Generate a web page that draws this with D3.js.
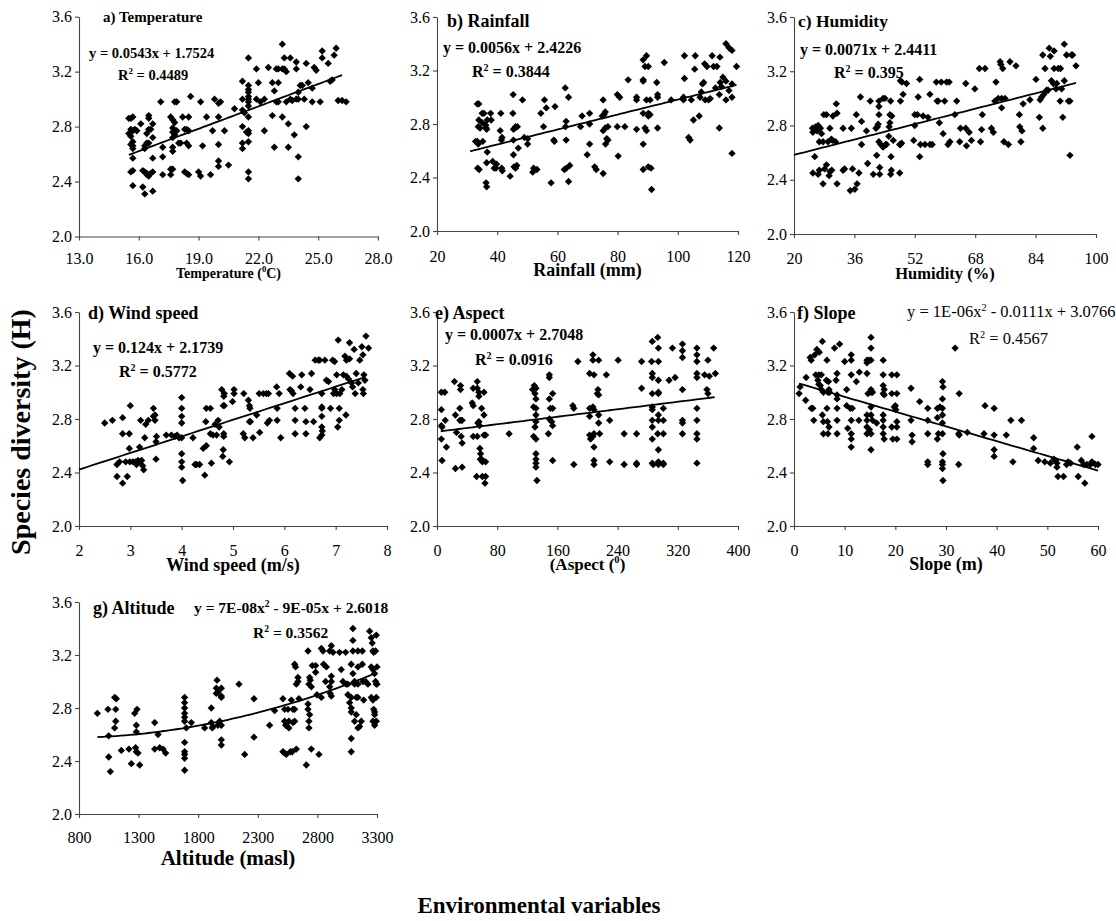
<!DOCTYPE html>
<html>
<head>
<meta charset="utf-8">
<script src="https://cdn.jsdelivr.net/npm/d3@7"></script>
<style>
  body { margin: 0; background: #fff; }
  svg { display: block; }
  text { font-family: "Liberation Serif", "Times New Roman", serif; fill: #000; }
</style>
</head>
<body>
<svg id="chart" width="1116" height="921"></svg>
<script>
// ---------- observations: [variable value, species diversity H] ----------
const temperature = [
[15.5,2.86],[15.6,2.86],[15.7,2.87],[15.5,2.75],[15.6,2.78],[15.7,2.77],[15.6,2.73],[15.7,2.69],[15.7,2.66],[15.6,2.67],[15.7,2.64],[15.7,2.57],[15.7,2.48],[15.6,2.47],[15.7,2.37],[15.8,2.78],[15.9,2.77],
[16.2,2.36],[16.3,2.31],[16.3,2.47],[16.4,2.45],[16.4,2.46],[16.5,2.44],[16.6,2.46],[16.7,2.47],[16.7,2.33],[16.7,2.57],[16.3,2.66],[16.4,2.68],[16.3,2.64],[16.5,2.88],[16.5,2.86],[16.4,2.75],[16.5,2.78],[16.6,2.78],[16.7,2.72],[16.7,2.82],[16.1,2.82],[16.5,2.68],[16.2,2.48],
[17.1,2.98],[17.2,2.65],[17.2,2.58],[17.2,2.45],
[17.6,2.87],[17.7,2.85],[17.8,2.83],[17.7,2.79],[17.7,2.76],[17.8,2.74],[17.7,2.72],[17.7,2.65],[17.7,2.62],[17.6,2.49],[17.6,2.45],[17.7,2.49],[17.8,2.98],[17.9,2.98],[17.8,2.76],[17.9,2.77],[18.0,2.68],[18.1,2.68],[18.2,2.87],[18.3,2.78],[18.4,2.78],[18.5,2.87],[18.5,2.77],[18.4,2.68],[18.5,2.66],[18.3,2.47],[18.4,2.46],[18.5,2.45],[18.6,3.02],
[19.1,2.98],[19.0,2.47],[19.1,2.44],[19.2,2.66],[19.4,2.87],[19.6,2.45],[19.7,2.77],[19.8,3.0],[20.0,2.97],[20.1,2.98],[20.0,2.87],[20.0,2.67],[20.0,2.55],[20.0,2.51],[20.3,2.77],[20.5,2.52],[20.8,2.93],
[21.2,3.13],[21.2,3.0],[21.2,2.92],[21.3,2.9],[21.2,2.8],[21.2,2.68],[21.2,2.64],[21.4,2.76],[21.5,3.3],[21.5,3.1],[21.5,3.07],[21.5,3.05],[21.5,3.02],[21.5,3.0],[21.5,2.98],[21.5,2.95],[21.5,2.87],[21.5,2.77],[21.5,2.75],[21.5,2.69],[21.5,2.47],[21.5,2.42],
[21.9,3.22],[21.9,3.0],[22.0,3.12],[22.1,2.98],[22.3,3.0],[22.3,2.77],[22.5,3.23],[22.7,2.88],[22.7,3.12],[22.8,3.06],[22.9,3.22],[22.8,2.65],[23.0,3.22],[23.0,3.12],[23.0,2.98],[22.9,2.98],[23.2,3.4],[23.3,3.3],[23.2,3.22],[23.2,2.87],[23.3,3.22],[23.4,3.2],[23.4,2.98],[23.5,2.65],[23.6,3.3],[23.6,3.0],[23.5,2.82],[23.7,2.99],[23.8,2.74],[23.9,3.22],[23.9,3.27],[23.9,3.0],[24.0,3.0],[24.0,3.05],[24.0,2.58],[24.0,2.42],[24.2,3.1],[24.1,3.1],[24.3,3.0],[24.4,3.26],[24.4,2.8],[24.5,3.12],[24.7,3.08],[24.7,2.98],[24.8,3.23],[24.9,3.21],[25.1,2.98],[25.2,3.35],[25.2,3.3],[25.5,3.26],[25.6,3.13],[25.7,3.14],[25.8,3.32],[25.9,3.37],[26.0,2.99],[26.2,2.99],[26.4,2.98]
];

const rainfall = [
[32.8,2.67],[33.4,2.95],[33.9,2.95],[33.4,2.67],[33.7,2.65],[33.5,2.47],[34.0,2.46],[33.9,2.83],[33.7,2.78],[34.3,2.77],[35.0,2.81],[35.0,2.88],[35.6,2.88],[35.2,2.67],[36.2,2.79],[36.5,2.76],[36.3,2.77],[36.7,2.83],[36.7,2.59],[36.5,2.51],[36.3,2.36],[36.5,2.33],[37.8,2.88],[38.0,2.83],[38.5,2.52],[39.0,2.47],[39.6,2.47],[39.8,2.5],[41.0,2.75],[41.2,2.88],[41.6,2.7],[41.4,2.68],[41.5,2.47],[41.7,2.45],[44.3,2.41],[45.2,2.88],[45.3,3.02],[45.4,2.76],[45.9,2.77],[46.1,2.78],[46.7,2.78],[45.4,2.68],[45.4,2.57],[45.6,2.48],[46.1,2.47],[46.5,2.49],[47.0,2.62],[48.4,2.98],[49.0,2.7],[50.1,2.65],[50.1,2.69],[51.8,2.44],[52.1,2.47],[53.2,2.46],[54.5,2.88],[55.4,2.78],[55.7,2.98],[56.3,2.92],[57.9,2.36],[59.2,2.93],[58.8,2.68],[59.0,2.67],
[62.6,3.07],[62.9,2.82],[62.7,2.78],[62.9,2.68],[62.3,2.46],[63.0,2.47],[63.7,3.0],[63.7,2.37],[64.1,2.49],[67.7,2.78],[68.2,2.86],[70.7,2.88],[70.7,2.8],[69.9,2.57],[70.7,2.65],[72.4,2.48],[72.9,2.46],[75.2,2.43],[75.2,2.98],[74.9,2.86],[75.5,2.87],[75.9,2.89],[75.2,2.75],[75.9,2.77],[76.8,2.78],[76.4,2.69],[76.8,2.68],[76.0,2.65],[79.9,3.02],[80.7,3.0],[79.9,2.78],[80.2,2.56],[82.4,2.78],[83.5,3.13],[86.3,3.0],[86.3,2.98],[86.3,2.76],
[88.5,3.13],[88.5,3.12],[88.5,3.28],[89.1,3.23],[89.6,3.31],[89.6,2.98],[90.2,3.23],[90.8,2.98],[88.5,2.88],[89.1,2.77],[89.6,2.75],[90.2,2.88],[90.8,2.87],[90.2,2.86],[88.5,2.65],[88.5,2.46],[90.2,2.48],[91.1,2.47],[91.3,2.31],[93.0,3.11],[93.3,3.0],[93.3,3.02],[93.3,2.77],[95.5,3.26],[97.8,2.98],
[101.9,2.98],[101.9,3.0],[102.2,3.31],[102.2,3.14],[104.5,2.98],[103.6,2.7],[104.1,2.68],[105.2,2.83],[105.8,3.31],[105.6,3.21],[107.1,2.86],[107.4,3.0],[107.8,3.04],[108.2,3.1],[108.6,3.11],[108.9,3.25],[109.1,2.98],[109.7,3.23],[110.2,2.98],[110.8,2.99],[111.4,3.31],[111.9,3.23],[112.5,3.07],[113.0,3.23],[113.8,3.02],[113.8,2.77],[114.1,3.11],[114.5,3.08],
[116.0,3.4],[117.0,3.37],[118.0,3.35],[114.0,3.3],[115.0,3.15],[116.0,3.12],[117.0,3.05],[116.0,2.98],[118.0,3.1],[118.0,3.0],[119.5,3.23],[118.0,2.58]
];

const humidity = [
[24.9,2.78],[25.0,2.75],[25.0,2.45],[25.5,2.57],[25.7,2.79],[26.1,2.76],[26.4,2.8],[26.4,2.44],[26.7,2.47],[27.0,2.78],[27.3,2.74],[26.7,2.68],[27.7,2.68],[27.9,2.88],[28.6,2.88],[27.7,2.37],[28.1,2.48],[28.6,2.51],[29.0,2.68],[29.5,2.78],[29.3,2.43],[29.9,2.7],[30.2,2.69],[29.5,2.46],[30.0,2.47],[30.3,2.87],[31.0,2.68],[31.4,2.37],[31.2,2.96],[31.4,2.89],[33.0,2.47],[33.4,2.48],[33.0,2.78],[35.2,2.78],[34.9,2.32],[35.5,2.48],[36.1,2.33],[36.5,2.88],[36.7,2.37],[37.2,2.45],[37.6,3.01],[37.9,2.83],[37.9,2.66],[39.2,2.76],[39.5,2.52],[40.2,2.98],[41.0,2.44],
[41.7,2.78],[42.1,2.79],[41.9,2.58],[42.3,2.81],[42.5,2.94],[42.5,2.88],[42.5,2.98],[42.7,2.49],[42.7,2.44],[42.5,2.68],[43.0,2.66],[43.6,3.0],[44.1,3.0],[43.6,2.64],[44.3,2.66],[44.5,2.66],[45.1,2.72],[45.2,2.79],[45.4,2.88],[45.4,2.82],[45.6,2.98],[45.7,2.57],[45.8,2.47],[45.6,2.44],[46.3,2.69],[45.9,2.87],[48.0,2.66],[48.2,2.66],[48.5,2.67],[48.0,2.45],[48.2,2.98],[48.2,3.13],[48.6,3.12],[48.9,3.03],[49.8,3.11],
[51.7,2.69],[52.0,2.8],[52.0,2.88],[52.7,2.88],[52.9,3.01],[53.3,3.14],[53.3,2.57],[53.5,2.66],[54.2,2.87],[54.7,2.66],[55.5,2.86],[56.0,3.03],[56.0,2.66],[56.6,2.66],[57.9,2.98],[58.5,2.82],[58.2,2.98],[57.7,3.12],[59.0,3.12],[59.5,2.74],[59.9,2.98],[60.4,3.12],[60.8,2.66],[61.3,2.68],[61.1,3.12],[62.6,2.88],[63.1,2.98],[63.9,2.68],[64.1,2.78],[65.5,2.78],[65.5,3.11],[65.7,2.65],[66.4,2.75],[67.0,2.69],[67.9,3.07],
[69.1,3.22],[69.4,2.68],[69.7,2.77],[69.9,2.88],[70.6,3.22],[72.3,2.78],[72.8,2.75],[73.2,2.98],[73.5,3.12],[74.1,3.0],[74.6,3.27],[74.8,3.25],[75.0,3.0],[75.0,2.93],[75.3,3.22],[75.6,2.68],[75.9,3.0],[76.8,2.66],[77.2,3.27],[78.8,3.24],[79.7,2.88],[79.8,2.79],[80.1,2.68],[80.4,2.76],[80.7,2.96],[82.5,2.99],
[84.1,3.14],[85.0,2.86],[85.2,2.99],[85.6,3.01],[85.9,2.78],[85.9,3.32],[86.2,3.03],[86.5,3.22],[86.9,3.06],[87.3,3.06],[87.6,3.37],[87.9,3.31],[88.2,3.13],[88.7,3.11],[88.9,3.35],[88.9,3.22],[89.4,3.07],[89.6,3.11],[90.0,3.22],[90.5,2.98],[90.6,3.22],[91.2,2.86],[90.9,3.07],[91.6,3.4],[91.6,3.13],[92.2,3.32],[92.7,2.98],[93.1,2.98],[93.1,2.58],[93.5,3.32],[93.8,3.32],[94.7,3.24]
];

const windSpeed = [
[2.5,2.77],[2.65,2.79],[2.74,2.37],[2.74,2.46],[2.79,2.48],[2.85,2.81],[2.85,2.69],[2.85,2.32],[2.91,2.48],[2.94,2.37],[2.98,2.58],[2.98,2.69],[3.0,2.9],[2.99,2.48],[3.05,2.48],[3.1,2.48],[3.12,2.46],[3.15,2.49],[3.18,2.59],[3.18,2.48],[3.2,2.79],[3.22,2.49],[3.24,2.45],[3.26,2.42],[3.28,2.66],[3.3,2.76],[3.35,2.79],[3.45,2.88],[3.45,2.82],[3.48,2.83],[3.48,2.79],[3.51,2.67],[3.5,2.63],[3.5,2.5],
[3.7,2.68],[3.8,2.68],[3.87,2.67],[3.91,2.68],[3.95,2.66],[4.0,2.96],[4.0,2.88],[4.0,2.82],[4.0,2.77],[4.0,2.66],[4.0,2.54],[4.0,2.48],[4.0,2.44],[4.02,2.34],[4.22,2.66],[4.26,2.46],[4.29,2.46],[4.35,2.46],[4.42,2.58],[4.45,2.38],[4.47,2.78],[4.48,2.6],[4.48,2.88],[4.56,2.88],[4.56,2.69],[4.58,2.47],[4.61,2.68],[4.65,2.76],[4.68,2.68],[4.71,2.79],[4.73,2.74],[4.78,3.02],[4.81,2.9],[4.82,2.97],[4.83,2.99],[4.83,2.9],[4.82,2.69],[4.82,2.67],[4.81,2.57],[4.8,2.52],[4.93,2.48],[4.99,2.93],[5.02,3.02],[5.02,2.99],
[5.2,2.69],[5.21,2.99],[5.23,2.66],[5.3,2.94],[5.32,2.9],[5.33,2.88],[5.32,2.78],[5.34,2.78],[5.39,2.66],[5.46,2.83],[5.51,2.99],[5.52,2.7],[5.59,2.99],[5.65,2.99],[5.67,2.77],[5.69,2.99],[5.71,2.79],[5.85,3.04],[5.86,2.88],[5.86,2.79],[5.9,2.99],[5.93,2.66],
[6.1,3.14],[6.11,3.02],[6.14,3.01],[6.16,3.12],[6.17,2.99],[6.21,2.88],[6.21,2.79],[6.21,2.69],[6.32,3.04],[6.34,3.13],[6.4,2.88],[6.42,2.78],[6.42,2.69],[6.5,3.02],[6.53,3.14],[6.57,2.78],[6.6,3.24],[6.66,3.24],[6.69,3.24],[6.69,2.66],[6.73,2.68],[6.73,2.89],[6.73,2.88],[6.73,2.99],[6.73,2.82],[6.73,2.74],[6.74,2.71],[6.79,3.24],[6.82,3.09],[6.86,3.08],[6.9,2.88],[6.94,3.24],[6.96,2.99],[6.98,3.23],[6.98,3.02],
[7.02,3.13],[7.02,2.99],[7.05,3.39],[7.04,2.74],[7.07,2.79],[7.07,2.88],[7.08,2.99],[7.12,3.02],[7.15,3.13],[7.18,3.27],[7.21,3.24],[7.2,2.83],[7.21,3.12],[7.25,3.1],[7.27,3.37],[7.27,3.25],[7.31,3.07],[7.33,3.04],[7.36,3.32],[7.38,2.99],[7.4,3.14],[7.44,3.07],[7.47,3.24],[7.51,3.34],[7.53,3.28],[7.53,3.02],[7.54,2.99],[7.55,3.13],[7.57,3.09],[7.59,3.42],[7.64,3.33]
];

const aspect = [
[5.8,3.0],[10.3,3.0],[5.8,2.87],[5.8,2.75],[6.7,2.74],[5.8,2.65],[6.7,2.49],[11.0,2.79],[12.5,2.59],[23.2,3.08],[24.5,2.83],[25.9,2.7],[24.5,2.43],[31.2,3.05],[31.2,3.02],[30.3,2.88],[30.3,2.79],[32.1,2.79],[33.4,2.79],[33.4,2.44],[32.1,2.67],[33.4,2.62],
[48.1,3.03],[46.8,2.92],[48.1,2.9],[48.1,2.67],[53.5,3.08],[53.5,3.03],[53.5,2.67],[54.4,2.77],[52.6,2.37],[55.7,3.0],[55.7,2.97],[55.7,2.78],[56.6,2.75],[57.0,2.58],[57.5,2.5],[57.9,2.54],[59.3,2.88],[59.3,2.5],[60.2,2.48],[60.2,2.37],[62.4,2.83],[62.4,2.68],[62.4,3.0],[63.7,2.32],[64.6,2.48],[64.6,2.37],[64.6,2.68],[95.8,2.69],
[127,3.02],[129.3,3.05],[130.2,2.99],[131.5,2.95],[131.5,3.03],[128.4,2.89],[131.5,2.88],[131.5,2.83],[131.5,2.78],[130.2,2.74],[128.4,2.67],[131.5,2.65],[131.5,2.54],[131.5,2.5],[131.5,2.47],[131.5,2.44],[132.8,2.34],[149.3,3.13],[149.3,3.11],[149.3,2.95],[150.6,2.88],[153.7,2.88],[148,2.69],[149.3,2.8],[152.4,2.78],[153.7,2.75],[153.7,2.99],[153.7,2.49],
[180.5,2.9],[181.8,2.88],[181.8,2.46],[187.2,3.23],[202.8,3.14],[202.8,2.88],[202.8,2.82],[202.8,2.68],[204.1,2.65],[207.2,3.28],[207.2,3.24],[208.6,3.13],[207.2,2.89],[208.6,2.87],[208.6,2.69],[207.2,2.67],[208.6,2.59],[208.6,2.49],[208.6,2.46],[213,2.99],[213.9,3.02],[214.8,2.98],[214.8,3.24],[216.1,2.69],[214.8,2.83],[214.8,2.77],[225,3.13],[229.5,2.79],[229.5,2.48],[240.7,3.24],[248.7,2.46],[248.7,2.69],[265.2,2.69],[265.2,2.47],[265.2,2.46],[271.9,3.23],[271.9,3.03],
[286.1,3.38],[285.2,3.23],[286.1,3.14],[286.1,3.11],[286.1,2.99],[286.1,2.89],[286.1,2.87],[286.1,2.79],[286.1,2.74],[286.1,2.65],[286.1,2.47],[287.4,2.46],[293.3,3.41],[294.2,3.33],[294.2,3.23],[294.2,3.09],[294.2,2.99],[294.2,3.0],[294.2,2.83],[294.2,2.79],[293.3,2.69],[294.2,2.57],[294.2,2.48],[294.2,2.46],[300.8,2.88],[300.8,2.79],[300.8,2.69],[300.8,2.46],[300.8,2.47],[308.4,3.09],[312.9,3.33],[316.4,3.11],
[326.2,3.36],[326.2,3.31],[326.2,3.26],[326.2,3.02],[326.2,2.79],[326.2,2.77],[326.2,2.69],[345.4,3.33],[345.4,3.28],[345.4,3.23],[345.4,3.14],[345.4,3.11],[345.4,2.88],[345.4,2.79],[345.4,2.69],[345.4,2.65],[345.4,2.47],[360,3.24],[358.7,3.02],[360,2.99],[355.6,3.13],[361.9,3.12],[367.7,3.33],[369.9,3.14]
];

const slope = [
[1,2.99],[1.2,3.04],[2.3,2.94],[2.4,3.11],[3.2,3.26],[3.4,3.24],[3.4,2.88],[3.7,2.88],[3.9,2.79],[4.1,3.28],[4.3,3.13],[4.5,3.32],[4.7,3.09],[4.9,3.13],[4.9,3.06],[5.0,3.3],[5.2,3.05],[5.4,3.02],[5.4,3.13],[5.6,3.38],[5.6,2.83],[5.8,2.78],[5.8,3.0],[5.8,2.69],[6.4,3.09],[6.5,3.24],[6.5,2.88],[6.6,2.78],[6.7,2.69],[6.7,3.0],[6.8,3.08],[6.9,3.02],[6.9,2.74],[7.0,3.0],
[8.0,3.33],[8.3,3.09],[8.5,3.14],[8.5,2.98],[8.5,2.95],[8.5,2.88],[8.5,2.79],[8.5,2.69],[9.0,3.36],[10.0,3.23],[10.4,3.02],[10.4,2.9],[10.6,2.73],[11.1,2.88],[11.3,3.28],[11.3,3.24],[11.3,3.13],[11.3,2.79],[11.3,2.69],[11.3,2.65],[11.3,2.59],[11.5,2.88],[12.3,3.08],[12.8,2.79],[12.9,3.15],
[14.4,3.14],[14.4,3.24],[14.4,3.22],[14.4,2.83],[14.4,2.79],[14.4,2.74],[14.4,2.69],[14.6,2.99],[14.8,3.24],[14.9,2.72],[15.2,3.41],[15.2,3.33],[15.2,3.24],[15.2,3.02],[15.2,3.0],[15.2,2.89],[15.2,2.83],[15.2,2.69],[15.2,2.57],[15.5,3.0],[15.5,2.79],[16.3,2.77],
[17.6,3.24],[17.6,3.13],[17.6,3.05],[17.6,2.99],[17.6,2.83],[17.6,2.79],[17.6,2.74],[17.6,2.69],[17.8,2.65],[17.8,3.02],[17.8,2.98],[19.3,3.13],[19.3,2.99],[19.3,2.74],[19.5,2.65],[19.8,2.89],[20.0,2.9],[20.1,2.87],[20.3,3.13],[20.3,2.99],[20.3,2.78],[20.3,2.74],[20.3,2.65],
[23.1,3.03],[23.1,2.79],[23.3,2.68],[23.3,2.63],[24.8,2.93],[26.4,2.88],[26.4,2.79],[26.4,2.69],[26.4,2.48],[26.4,2.46],[28.3,2.88],[28.3,2.81],[28.3,2.65],[28.5,2.69],[28.8,2.89],[29.3,3.08],[29.4,3.04],[29.3,2.95],[29.3,2.88],[29.3,2.83],[29.3,2.77],[29.3,2.69],[29.4,2.54],[29.3,2.48],[29.3,2.46],[29.3,2.43],[29.4,2.34],
[31.8,3.33],[32.6,2.99],[32.5,2.69],[32.6,2.68],[32.5,2.46],[34.2,2.7],[37.5,2.69],[37.7,2.9],[39.5,2.88],[39.5,2.68],[39.5,2.57],[39.5,2.52],[41.9,2.68],[42.8,2.79],[43.2,2.48],[44.9,2.79],[47.3,2.66],[47.3,2.58],[48.2,2.49],[49.5,2.48],
[50.6,2.47],[51.3,2.5],[51.6,2.49],[51.9,2.47],[51.9,2.44],[52.1,2.37],[53.2,2.37],[53.8,2.46],[54.1,2.48],[54.6,2.47],[55.9,2.59],[56.1,2.37],[56.7,2.49],[57.2,2.46],[57.4,2.32],[57.8,2.46],[58.5,2.46],[58.8,2.48],[58.8,2.67],[59.5,2.46],[60.0,2.46]
];

const altitude = [
[954,2.76],[1043,2.79],[1049,2.59],[1049,2.43],[1063,2.32],[1099,2.88],[1113,2.87],[1108,2.79],[1108,2.7],[1099,2.65],[1155,2.48],[1219,2.49],[1239,2.38],[1267,2.76],[1275,2.5],[1281,2.47],[1287,2.79],[1281,2.67],[1281,2.62],[1295,2.46],[1309,2.37],[1435,2.69],[1435,2.49],[1463,2.6],[1477,2.5],[1505,2.49],[1527,2.46],
[1686,2.88],[1686,2.84],[1686,2.8],[1686,2.76],[1686,2.73],[1686,2.7],[1686,2.54],[1686,2.47],[1686,2.45],[1686,2.42],[1686,2.33],[1700,2.65],[1742,2.69],[1854,2.65],[1910,2.8],[1910,2.69],[1918,2.65],[1924,2.66],[1952,2.95],[1952,2.91],[1958,3.01],[1966,2.92],[1966,2.67],[1980,2.7],[1994,2.89],[1994,2.88],[1994,2.95],[1994,2.67],[1994,2.56],[1994,2.52],
[2142,2.98],[2190,2.45],[2268,2.87],[2268,2.58],[2399,2.67],[2441,2.78],[2511,2.87],[2525,2.79],[2525,2.7],[2511,2.47],[2525,2.46],[2534,2.67],[2539,2.45],[2553,2.79],[2561,2.65],[2573,2.47],[2589,2.47],[2595,2.79],[2581,2.86],[2595,2.69],[2561,2.7],[2609,3.13],[2609,2.79],[2609,2.7],[2617,3.11],[2623,2.98],[2637,3.03],[2637,3.0],[2645,2.87],[2623,2.49],
[2707,2.37],[2721,3.23],[2729,2.98],[2735,3.03],[2740,3.01],[2749,2.96],[2721,2.83],[2721,2.79],[2729,2.7],[2729,2.65],[2735,2.75],[2749,2.49],[2757,3.12],[2785,3.12],[2785,3.07],[2796,2.9],[2813,2.45],[2833,2.88],[2852,3.13],[2869,3.0],[2903,2.96],[2917,2.89],[2917,3.0],[2908,2.91],[2833,3.25],[2847,3.23],[2875,3.11],[2903,3.23],[2917,3.27],[2931,3.22],[2917,3.04],
[2986,3.22],[3000,3.09],[3014,3.0],[3037,3.22],[3042,2.98],[3056,2.98],[3056,2.9],[3084,3.13],[3084,2.88],[3070,2.84],[3084,2.8],[3084,2.77],[3084,2.57],[3084,2.47],[3098,3.4],[3098,3.31],[3098,3.23],[3098,3.06],[3112,3.0],[3112,2.98],[3112,2.7],[3126,2.88],[3126,2.75],[3140,3.23],[3140,3.11],[3140,2.98],[3140,2.88],[3140,2.65],[3154,2.66],[3168,2.7],[3177,3.23],[3177,3.13],[3182,3.0],[3188,2.86],[3205,3.0],[3224,2.98],
[3238,3.38],[3252,3.33],[3260,3.29],[3266,3.23],[3272,3.22],[3252,3.11],[3266,3.09],[3280,3.06],[3288,3.0],[3294,2.98],[3252,2.88],[3266,2.86],[3272,2.79],[3280,2.77],[3280,2.75],[3266,2.7],[3280,2.67],[3294,2.7],[3294,2.88],[3300,2.98],[3300,3.11],[3288,3.23],[3294,3.35]
];

// ---------- axis ticks ----------
const yTicks = [2.0, 2.4, 2.8, 3.2, 3.6];
const tempTicks = [13, 16, 19, 22, 25, 28];
const rainTicks = [20, 40, 60, 80, 100, 120];
const humTicks = [20, 36, 52, 68, 84, 100];
const windTicks = [2, 3, 4, 5, 6, 7, 8];
const aspectTicks = [0, 80, 160, 240, 320, 400];
const slopeTicks = [0, 10, 20, 30, 40, 50, 60];
const altTicks = [800, 1300, 1800, 2300, 2800, 3300];

// ---------- trend lines: y = a·x² + b·x + c, drawn over [from, to] ----------
const tempFit = [0, 0.0543, 1.7524];
const rainFit = [0, 0.0056, 2.4226];
const humFit = [0, 0.0071, 2.4411];
const windFit = [0, 0.124, 2.1739];
const aspectFit = [0, 0.0007, 2.7048];
const slopeFit = [1e-6, -0.0111, 3.0766];
const altFit = [7e-8, -9e-5, 2.6018];

const tempSpan = [15.5, 26.2];
const rainSpan = [31, 119.5];
const humSpan = [20, 94.7];
const windSpan = [2, 7.55];
const aspectSpan = [5, 369];
const slopeSpan = [1, 60];
const altSpan = [954, 3300];

// ---------- texts (^ marks a one-character superscript) ----------
const panelTitles = ["a) Temperature", "b) Rainfall", "c) Humidity", "d) Wind speed", "e) Aspect", "f) Slope", "g) Altitude"];
const xTitles = ["Temperature (^0C)", "Rainfall (mm)", "Humidity (%)", "Wind speed (m/s)", "(Aspect (^0)", "Slope (m)", "Altitude (masl)"];
const equations = [
  "y = 0.0543x + 1.7524", "y = 0.0056x + 2.4226", "y = 0.0071x + 2.4411", "y = 0.124x + 2.1739",
  "y = 0.0007x + 2.7048", "y = 1E-06x^2 - 0.0111x + 3.0766", "y = 7E-08x^2 - 9E-05x + 2.6018"
];
const rSquared = ["R^2 = 0.4489", "R^2 = 0.3844", "R^2 = 0.395", "R^2 = 0.5772", "R^2 = 0.0916", "R^2 = 0.4567", "R^2 = 0.3562"];
const yTitle = "Species diversity (H)";
const bottomTitle = "Environmental variables";

// ---------- panel frames and text placement (pixels) ----------
const layout = [
  { L: 79,  R: 378,  T: 16.7, B: 236.5, tickOff: 21.5, titleOff: 37,   xtFs: 14,
    head: [103, 17, 15], eq: [89, 53, 14.5], r2: [118, 75, 14.5], bold: true },
  { L: 437, R: 738,  T: 17,   B: 231,   tickOff: 25,   titleOff: 39,   xtFs: 18,
    head: [447, 21, 18], eq: [443, 48, 16], r2: [472, 72, 16], bold: true },
  { L: 794, R: 1096, T: 17,   B: 234,   tickOff: 24,   titleOff: 39.5, xtFs: 16.5,
    head: [798, 21, 17.5], eq: [800, 50, 16], r2: [834, 73, 16], bold: true },
  { L: 79,  R: 387,  T: 312,  B: 526,   tickOff: 24,   titleOff: 39.5, xtFs: 18,
    head: [88, 313, 18], eq: [93, 348, 16], r2: [119, 372, 16], bold: true },
  { L: 437, R: 738,  T: 312,  B: 526,   tickOff: 24,   titleOff: 38.5, xtFs: 17,
    head: [435, 313, 18], eq: [445, 335, 16], r2: [475, 360, 16], bold: true },
  { L: 794, R: 1098, T: 312,  B: 526,   tickOff: 24,   titleOff: 38,   xtFs: 18,
    head: [797, 313, 18], eq: [907, 312, 16.5], r2: [969, 339, 16.5], bold: false },
  { L: 79,  R: 377,  T: 602,  B: 814,   tickOff: 23,   titleOff: 44,   xtFs: 21,
    head: [93, 608, 18], eq: [194, 608, 15.5], r2: [253, 633, 15.5], bold: true }
];

const series = [temperature, rainfall, humidity, windSpeed, aspect, slope, altitude];
const tickSets = [tempTicks, rainTicks, humTicks, windTicks, aspectTicks, slopeTicks, altTicks];
const fits = [tempFit, rainFit, humFit, windFit, aspectFit, slopeFit, altFit];
const spans = [tempSpan, rainSpan, humSpan, windSpan, aspectSpan, slopeSpan, altSpan];
const tickFormats = [d3.format(".1f"), d3.format("d"), d3.format("d"), d3.format("d"), d3.format("d"), d3.format("d"), d3.format("d")];

const svg = d3.select("#chart");
svg.append("rect").attr("width", 1116).attr("height", 921).attr("fill", "#fff");

const AXIS = "#444";
const TICK_FS = 16;

// writes a string into a <text>, raising characters that follow "^"
function richText(sel, str, fs) {
  const parts = str.split(/\^(.)/);
  let raised = false;
  parts.forEach((p, i) => {
    if (p === "") return;
    const sup = i % 2 === 1;
    const t = sel.append("tspan").text(p);
    if (sup) {
      t.attr("font-size", fs * 0.62).attr("dy", -fs * 0.42);
      raised = true;
    } else if (raised) {
      t.attr("dy", fs * 0.42);
      raised = false;
    }
  });
}

series.forEach((data, k) => {
  const lay = layout[k];
  const ticks = tickSets[k];
  const x = d3.scaleLinear().domain([ticks[0], ticks[ticks.length - 1]]).range([lay.L, lay.R]);
  const y = d3.scaleLinear().domain([yTicks[0], yTicks[yTicks.length - 1]]).range([lay.B, lay.T]);
  const g = svg.append("g").attr("class", "panel");

  // axes
  const ax = g.append("g")
    .attr("transform", `translate(0,${lay.B})`)
    .call(d3.axisBottom(x).tickValues(ticks).tickFormat(tickFormats[k])
      .tickSize(4).tickSizeOuter(0).tickPadding(lay.tickOff - 4 - TICK_FS * 0.36));
  const ay = g.append("g")
    .attr("transform", `translate(${lay.L},0)`)
    .call(d3.axisLeft(y).tickValues(yTicks).tickFormat(d3.format(".1f"))
      .tickSize(4).tickSizeOuter(0).tickPadding(3));
  [ax, ay].forEach(a => {
    a.attr("font-family", null).attr("font-size", TICK_FS);
    a.select(".domain").attr("stroke", AXIS).attr("stroke-width", 1.1);
    a.selectAll(".tick line").attr("stroke", AXIS).attr("stroke-width", 1.1);
    a.selectAll(".tick text").attr("fill", "#000");
  });

  // observations as diamonds
  const diamond = d3.symbol(d3.symbolSquare, 27);
  g.append("g").selectAll("path")
    .data(data)
    .join("path")
    .attr("d", diamond)
    .attr("transform", d => `translate(${x(d[0])},${y(d[1])}) rotate(45)`)
    .attr("fill", "#000");

  // trend line
  const [qa, qb, qc] = fits[k];
  const [x0, x1] = spans[k];
  const xs = d3.range(0, 61).map(i => x0 + (x1 - x0) * i / 60);
  g.append("path")
    .datum(xs)
    .attr("fill", "none")
    .attr("stroke", "#000")
    .attr("stroke-width", 1.8)
    .attr("d", d3.line().x(v => x(v)).y(v => y(qa * v * v + qb * v + qc)));

  // panel heading
  const [hx, hy, hfs] = lay.head;
  g.append("text").attr("x", hx).attr("y", hy + hfs * 0.33)
    .attr("font-size", hfs).attr("font-weight", "bold").text(panelTitles[k]);

  // equation and R²
  const [ex, ey, efs] = lay.eq;
  richText(g.append("text").attr("x", ex).attr("y", ey + efs * 0.33)
    .attr("font-size", efs).attr("font-weight", lay.bold ? "bold" : "normal"), equations[k], efs);
  const [rx, ry, rfs] = lay.r2;
  richText(g.append("text").attr("x", rx).attr("y", ry + rfs * 0.33)
    .attr("font-size", rfs).attr("font-weight", lay.bold ? "bold" : "normal"), rSquared[k], rfs);

  // x-axis title
  richText(g.append("text")
    .attr("x", (lay.L + lay.R) / 2)
    .attr("y", lay.B + lay.titleOff + lay.xtFs * 0.33)
    .attr("text-anchor", "middle")
    .attr("font-size", lay.xtFs).attr("font-weight", "bold"), xTitles[k], lay.xtFs);
});

// shared titles
svg.append("text")
  .attr("transform", "translate(30,432) rotate(-90)")
  .attr("text-anchor", "middle")
  .attr("font-size", 28).attr("font-weight", "bold")
  .text(yTitle);

svg.append("text")
  .attr("x", 539).attr("y", 913)
  .attr("text-anchor", "middle")
  .attr("font-size", 23).attr("font-weight", "bold")
  .text(bottomTitle);
</script>
</body>
</html>
